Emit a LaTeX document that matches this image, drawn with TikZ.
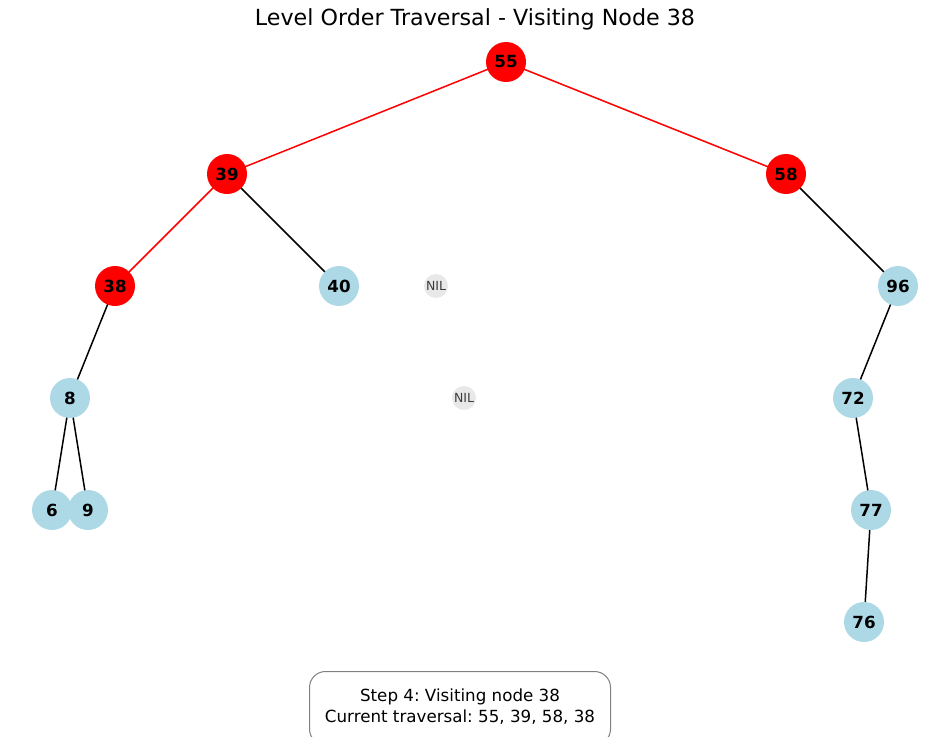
\documentclass[tikz,border=0pt]{standalone}
\usepackage{fontspec}
\setmainfont{DejaVu Sans}
\usetikzlibrary{backgrounds}
\frenchspacing
\begin{document}
\begin{tikzpicture}[x=1pt, y=-1pt, line join=round, line cap=round,
	key/.style={circle, minimum size=40pt, inner sep=0pt, font=\fontsize{16.7}{18}\selectfont\bfseries},
	seen/.style={key, fill=red},
	open/.style={key, fill={rgb,255:red,173;green,216;blue,230}},
	nil/.style={circle, minimum size=24pt, inner sep=0pt, fill={rgb,255:red,232;green,232;blue,232}, text={rgb,255:red,60;green,60;blue,60}, font=\fontsize{12.5}{14}\selectfont},
	edge/.style={line width=1.5pt, black},
	hot/.style={line width=1.5pt, red}]
	\clip (0,0) rectangle (950,736);
	\useasboundingbox (0,0) rectangle (950,736);
	\node (title) at (475,19) {\fontsize{22.2}{26}\selectfont Level Order Traversal - Visiting Node 38};
	% nodes
	\node[seen] (n55) at (506,62) {55};
	\node[seen] (n39) at (227,174) {39};
	\node[seen] (n58) at (786,174) {58};
	\node[seen] (n38) at (115,286) {38};
	\node[open] (n40) at (339,286) {40};
	\node[nil] (nilA) at (436,286) {NIL};
	\node[open] (n96) at (898,286) {96};
	\node[open] (n8) at (70,398) {8};
	\node[nil] (nilB) at (464,398) {NIL};
	\node[open] (n72) at (853,398) {72};
	\node[open] (n6) at (52,510) {6};
	\node[open] (n9) at (88,510) {9};
	\node[open] (n77) at (871,510) {77};
	\node[open] (n76) at (864,622) {76};
	% edges
	\begin{scope}[on background layer]
		\foreach \a/\b in {55/39,55/58,39/38}\draw[hot](n\a.center)--(n\b.center);
		\foreach \a/\b in {39/40,58/96,96/72,72/77,77/76,38/8,8/6,8/9}\draw[edge](n\a.center)--(n\b.center);
	\end{scope}
	\draw[rounded corners=16pt, draw={rgb,255:red,128;green,128;blue,128}, fill=white, line width=1pt] (309.5,671.5) rectangle (610.5,745);
	\node[align=center, font=\fontsize{16.7}{21}\selectfont] (info) at (460,706.5) {Step 4: Visiting node 38\\Current traversal: 55, 39, 58, 38};
\end{tikzpicture}
\end{document}
